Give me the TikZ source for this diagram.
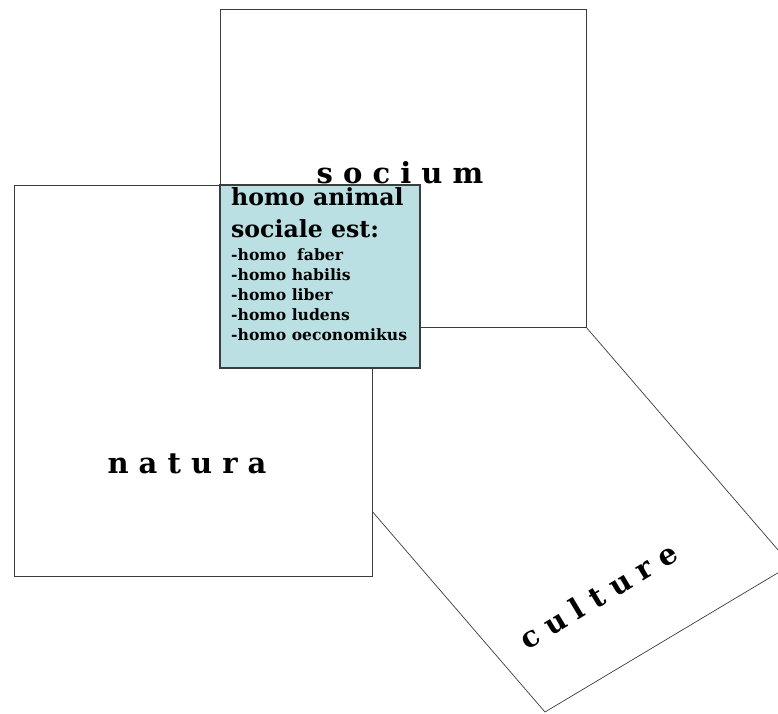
\documentclass[tikz,border=0pt]{standalone}
\usepackage{fontspec}
\usepackage{tikz}
\usetikzlibrary{positioning}
\setmainfont{DejaVu Serif}
\definecolor{boxline}{RGB}{60,60,60}
\definecolor{hdrcyan}{RGB}{187,224,228}
\tikzset{
  field/.style={draw=boxline, fill=white, line width=0.9pt},
  homobox/.style={draw=boxline, fill=hdrcyan, line width=1.1pt},
  fieldlabel/.style={font=\fontsize{29}{32}\selectfont\bfseries, inner sep=0pt, anchor=base},
  homotext/.style={align=left, inner sep=0pt, anchor=north west}
}

\begin{document}
\begin{tikzpicture}[x=1pt, y=-1pt]
  \useasboundingbox (0,0) rectangle (778,713);
  \clip (0,0) rectangle (778,713);

  % Culture (tilted, lies behind the others)
  \draw[field, line width=0.7pt] (518.8,249) -- (791,565) -- (545,712) -- (272.8,396) -- cycle;

  % Natura and socium
  \draw[field] (14,185) rectangle (372,576);
  \draw[field] (220,9) rectangle (586,327);

  % Common part
  \draw[homobox] (220,185) rectangle (420,368);

  % Labels
  \node[fieldlabel] (socium) at (400,183) {s o c i u m};
  \node[fieldlabel] (natura) at (187,473) {n a t u r a};
  \node[fieldlabel, rotate=31] (culture) at (604,605) {c u l t u r e};

  \node[homotext, font=\fontsize{23.6}{32}\selectfont\bfseries] (homo) at (231,187)
    {homo animal\\ sociale est:};
  \node[homotext, below=11pt of homo.south west, anchor=north west,
        font=\fontsize{15.6}{20}\selectfont\bfseries] (homolist)
    {-homo\ \ faber\\ -homo habilis\\ -homo liber\\ -homo ludens\\ -homo oeconomikus};
\end{tikzpicture}
\end{document}
